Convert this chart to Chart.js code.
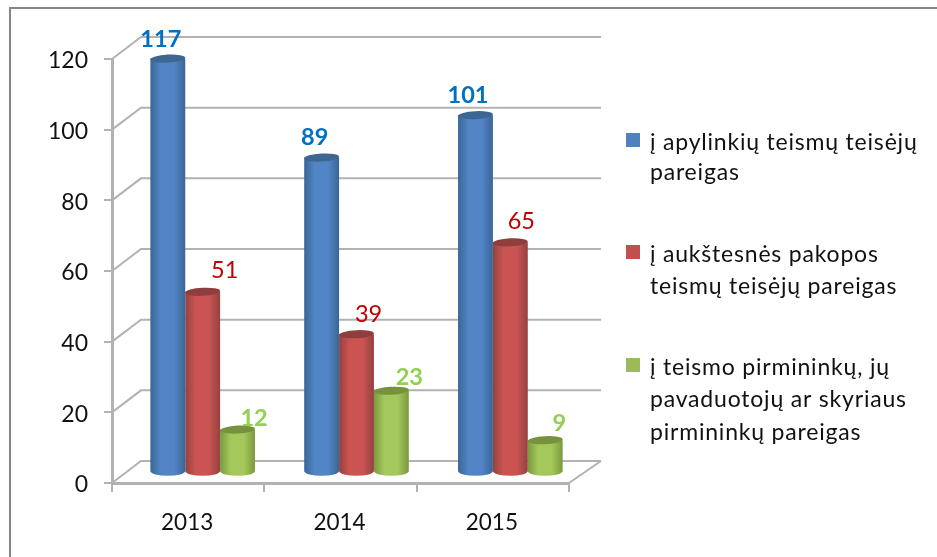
<!DOCTYPE html>
<html>
<head>
<meta charset="utf-8">
<style>
html,body{margin:0;padding:0;background:#fff;overflow:hidden}
#wrap{position:relative;width:937px;height:557px}
</style>
<script src="https://cdn.jsdelivr.net/npm/chart.js@4"></script>
</head>
<body>
<div id="wrap"><canvas id="c" width="937" height="557"></canvas></div>
<script>
// ---- data ----
const categories = ['2013', '2014', '2015'];
const apylinkiu = [117, 89, 101];
const aukstesniu = [51, 39, 65];
const pirmininku = [12, 23, 9];
const yTicks = [0, 20, 40, 60, 80, 100, 120];
const labelApylinkiu = ['į apylinkių teismų teisėjų', 'pareigas'];
const labelAukstesniu = ['į aukštesnės pakopos', 'teismų teisėjų pareigas'];
const labelPirmininku = ['į teismo pirmininkų, jų', 'pavaduotojų ar skyriaus', 'pirmininkų pareigas'];

// ---- style ----
const FONT = 'Lato, Carlito, "Open Sans", sans-serif';
const DEPTH_X = 29, DEPTH_Y = 22;      // floor depth of the 3D box
const BAR_SX = 1.0098, BAR_DX = 12.67, BAR_DY = -11;  // cylinders stand mid-way in the box
const GRID = '#b2b2b2';
const shades = [
  {edge:'#3a6597', mid:'#5285c6', cap:'#3d6693', key:'#4f81bd', text:'#0070c0', weight:'bold'},
  {edge:'#934240', mid:'#cb5452', cap:'#8e3f3d', key:'#c0504d', text:'#c00000', weight:'normal'},
  {edge:'#7a9a3e', mid:'#a4c85b', cap:'#76923c', key:'#9bbb59', text:'#92d050', weight:'bold'}
];
// data-label nudges from the top of each cylinder (dataset, then category)
const labelDx = [[-7,-7,-7.5],[22,12,11],[16.5,18,14]];
const labelDy = [[-20,-21,-21],[-22,-21,-22],[-12,-14,-18]];
const CATEGORY_PCT = 0.68;

function barGradient(ctx2d, cx, w, s){
  const g = ctx2d.createLinearGradient(cx - w/2, 0, cx + w/2, 0);
  g.addColorStop(0, s.edge);
  g.addColorStop(0.3, s.mid);
  g.addColorStop(0.68, s.mid);
  g.addColorStop(1, s.edge);
  return g;
}
function scriptedFill(dsIndex){
  return function(c){
    const x = c.chart.scales.x;
    if (c.type !== 'data' || !x) return shades[dsIndex].key;
    const catW = (x.right - x.left) / categories.length;
    const w = catW * CATEGORY_PCT / 3;
    const cx = x.getPixelForValue(c.dataIndex) + (dsIndex - 1) * w;
    if (!isFinite(cx) || !isFinite(w)) return shades[dsIndex].key;
    return barGradient(c.chart.ctx, cx, w, shades[dsIndex]);
  };
}

const box3d = {
  id:'box3d',
  beforeDatasetsDraw(chart){
    const {ctx, scales:{x,y}} = chart;
    const L = x.left, R = x.right, b = y.getPixelForValue(0);
    ctx.save();
    ctx.strokeStyle = GRID; ctx.lineWidth = 2;
    ctx.beginPath();
    yTicks.forEach(v=>{
      const p = y.getPixelForValue(v);
      ctx.moveTo(L, p);
      ctx.lineTo(L + DEPTH_X, p - DEPTH_Y);
      ctx.lineTo(R + 32, p - DEPTH_Y);
    });
    ctx.moveTo(R, b); ctx.lineTo(R + 32, b - DEPTH_Y);
    ctx.stroke();
    ctx.restore();
  },
  beforeDatasetDraw(chart){
    chart.ctx.save();
    chart.ctx.translate(BAR_DX, BAR_DY);
    chart.ctx.scale(BAR_SX, 1);
  },
  afterDatasetDraw(chart, args){
    const {ctx} = chart, s = shades[args.index];
    args.meta.data.forEach(el=>{
      const w = el.width, rx = w/2;
      // rounded foot
      ctx.fillStyle = barGradient(ctx, el.x, w, s);
      ctx.beginPath();
      ctx.ellipse(el.x, el.base, rx, 4.8, 0, 0, Math.PI);
      ctx.fill();
      // rounded top
      ctx.fillStyle = s.cap;
      ctx.beginPath();
      ctx.ellipse(el.x, el.y, rx, 4, -0.05, 0, Math.PI*2);
      ctx.fill();
    });
    ctx.restore();
  },
  afterDatasetsDraw(chart){
    const {ctx} = chart;
    ctx.save();
    ctx.textAlign = 'center'; ctx.textBaseline = 'middle';
    chart.data.datasets.forEach((ds,i)=>{
      const s = shades[i];
      ctx.fillStyle = s.text;
      ctx.font = s.weight + ' 23.5px ' + FONT;
      chart.getDatasetMeta(i).data.forEach((el,j)=>{
        ctx.fillText(String(ds.data[j]), el.x * BAR_SX + BAR_DX + labelDx[i][j], el.y + BAR_DY + labelDy[i][j] + 1);
      });
    });
    ctx.restore();
  },
  afterDraw(chart){
    const {ctx} = chart;
    ctx.save();
    // outer frame
    ctx.strokeStyle = '#868686'; ctx.lineWidth = 2;
    ctx.beginPath();
    ctx.moveTo(10, 557); ctx.lineTo(10, 8); ctx.lineTo(937, 8);
    ctx.stroke();
    // legend
    const blocks = [[143,173],[255,287],[368,400,433]];
    const keyY = [140,252,365];
    chart.data.datasets.forEach((ds,i)=>{
      ctx.fillStyle = shades[i].key;
      ctx.fillRect(626, keyY[i]-7, 14, 14);
      ctx.fillStyle = '#111';
      ctx.font = '23px ' + FONT;
      ctx.letterSpacing = '0.8px';
      ctx.textAlign = 'left'; ctx.textBaseline = 'middle';
      ds.label.forEach((line,k)=> ctx.fillText(line, 650, blocks[i][k]));
    });
    ctx.restore();
  }
};

new Chart(document.getElementById('c'), {
  type:'bar',
  data:{
    labels:categories,
    datasets:[
      {label:labelApylinkiu, data:apylinkiu, backgroundColor:scriptedFill(0), clip:false},
      {label:labelAukstesniu, data:aukstesniu, backgroundColor:scriptedFill(1), clip:false},
      {label:labelPirmininku, data:pirmininku, backgroundColor:scriptedFill(2), clip:false}
    ]
  },
  options:{
    responsive:false,
    animation:false,
    devicePixelRatio:1,
    layout:{padding:{left:0,top:59,right:368,bottom:0}},
    plugins:{legend:{display:false},tooltip:{enabled:false},title:{display:false}},
    datasets:{bar:{categoryPercentage:CATEGORY_PCT,barPercentage:1,borderWidth:0}},
    scales:{
      x:{
        afterFit(s){ s.height = 74; },
        grid:{drawOnChartArea:false,drawTicks:true,tickLength:9,color:GRID,lineWidth:2},
        border:{display:true,color:GRID,width:3},
        ticks:{color:'#111',font:{family:FONT,size:22.5},padding:17,maxRotation:0,labelOffset:-1}
      },
      y:{
        min:0,max:120,
        afterFit(s){ s.width = 112; },
        afterBuildTicks(s){ s.ticks = yTicks.map(v=>({value:v})); },
        grid:{drawOnChartArea:false,drawTicks:true,tickLength:8,color:GRID,lineWidth:2},
        border:{display:true,color:GRID,width:3},
        ticks:{color:'#111',font:{family:FONT,size:23},padding:16,labelOffset:2}
      }
    }
  },
  plugins:[box3d]
});
</script>
</body>
</html>
